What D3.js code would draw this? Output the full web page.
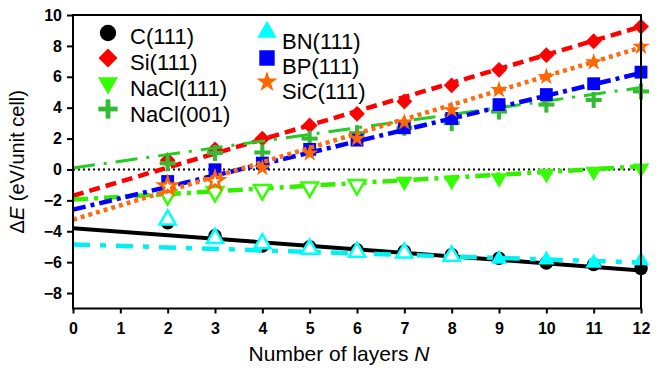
<!DOCTYPE html>
<html><head><meta charset="utf-8">
<script src="https://cdn.jsdelivr.net/npm/d3@7"></script>
<style>body{margin:0;background:#fff}svg{display:block}</style></head>
<body><svg id="c" width="662" height="370"></svg>
<script>
// ---- data ----
const layers   = [2,3,4,5,6,7,8,9,10,11,12];
const C111     = [-3.45,-4.3,-4.95,-5.0,-5.2,-5.3,-5.5,-5.75,-6.05,-6.15,-6.4];
const Si111    = [0.6,1.3,2.0,2.85,3.6,4.4,5.45,6.45,7.4,8.3,9.25];
const NaCl111  = [-1.65,-1.45,-1.32,-1.15,-1.0,-0.78,-0.72,-0.56,-0.28,-0.13,0.08];
const NaCl001  = [0.4,1.07,1.1,2.0,2.35,2.7,3.0,3.75,4.2,4.5,5.05];
const BN111    = [-3.25,-4.45,-4.8,-5.15,-5.35,-5.4,-5.6,-5.8,-5.85,-6.05,-5.9];
const BP111    = [-0.78,-0.02,0.41,1.3,1.9,2.7,3.3,4.2,4.85,5.55,6.3];
const SiC111   = [-1.1,-0.75,0.1,1.05,2.0,3.05,3.85,5.15,6.0,6.95,7.95];
// open (hollow) markers
const NaCl111open = [1,1,1,1,1,0,0,0,0,0,0];
const BN111open   = [1,1,1,1,1,1,1,0,0,0,0];
const SiC111open  = [1,1,0,0,0,0,0,0,0,0,0];
// fitted lines: value at N=0 and N=12
const fitN       = [0,12];
const C111fit    = [-3.8,-6.54];
const Si111fit   = [-1.7,9.25];
const NaCl111fit = [-1.95,0.2];
const NaCl001fit = [0.1,5.3];
const BN111fit   = [-4.85,-6.02];
const BP111fit   = [-2.6,6.25];
const SiC111fit  = [-3.25,7.9];
const xTicks = [0,1,2,3,4,5,6,7,8,9,10,11,12];
const yTicks = [-8,-6,-4,-2,0,2,4,6,8,10];
const labels = ["C(111)","Si(111)","NaCl(111)","NaCl(001)","BN(111)","BP(111)","SiC(111)"];

// ---- chart ----
const svg = d3.select("#c");
const x = d3.scaleLinear().domain([0,12]).range([73,641]);
const y = d3.scaleLinear().domain([-9,10]).range([308.5,15]);
const FONT = "Liberation Sans, Arial, Helvetica, sans-serif";

const series = [
  {name:labels[0], vals:C111, fit:C111fit, open:null, shape:"circle", fill:"#000", lc:"#000", dash:null, lw:4},
  {name:labels[1], vals:Si111, fit:Si111fit, open:null, shape:"diamond", fill:"#ff0000", lc:"#ff0000", dash:"11,6", lw:4.5},
  {name:labels[2], vals:NaCl111, fit:NaCl111fit, open:NaCl111open, shape:"tridown", fill:"#33ff00", lc:"#33ee00", dash:"15,6,4,6", lw:4.5},
  {name:labels[3], vals:NaCl001, fit:NaCl001fit, open:null, shape:"plus", fill:"#33bb33", lc:"#22cc22", dash:"22,9,3,9", lw:3},
  {name:labels[4], vals:BN111, fit:BN111fit, open:BN111open, shape:"triup", fill:"#00ffff", lc:"#00f0f0", dash:"17,10,6,10", lw:4.5},
  {name:labels[5], vals:BP111, fit:BP111fit, open:null, shape:"square", fill:"#0000ff", lc:"#0000ff", dash:"13,5,4,5", lw:4.5},
  {name:labels[6], vals:SiC111, fit:SiC111fit, open:SiC111open, shape:"star", fill:"#ff6600", lc:"#ff6a10", dash:"4,4", lw:4.5}
];

function drawMarker(g, shape, color, open, scale) {
  const s = scale || 1;
  if (shape === "plus") {
    const a = 8*s;
    g.append("line").attr("x1",-a).attr("x2",a).attr("y1",0).attr("y2",0).attr("stroke",color).attr("stroke-width",4*s);
    g.append("line").attr("x1",0).attr("x2",0).attr("y1",-a).attr("y2",a).attr("stroke",color).attr("stroke-width",4*s);
    return;
  }
  let sym, size, rot = 0;
  if (shape === "circle") { sym = d3.symbolCircle; size = 145; }
  else if (shape === "diamond") { sym = d3.symbolSquare; size = 125; rot = 45; }
  else if (shape === "tridown") { sym = d3.symbolTriangle; size = 120; rot = 180; }
  else if (shape === "triup") { sym = d3.symbolTriangle; size = 115; }
  else if (shape === "square") { sym = d3.symbolSquare; size = 165; }
  else if (shape === "star") { sym = d3.symbolStar; size = 95; }
  const p = g.append("path")
    .attr("d", d3.symbol().type(sym).size(size*s*s)())
    .attr("transform", rot ? `rotate(${rot})` : null);
  if (open) p.attr("fill","#fff").attr("stroke",color).attr("stroke-width",2.5);
  else p.attr("fill",color);
}

// zero reference line
svg.append("line").attr("x1",x(0)).attr("x2",x(12)).attr("y1",y(0)).attr("y2",y(0))
  .attr("stroke","#000").attr("stroke-width",2).attr("stroke-dasharray","2,3");

const line = d3.line().x(d=>x(d[0])).y(d=>y(d[1]));
series.forEach(s => {
  svg.append("path").datum(fitN.map((n,i)=>[n,s.fit[i]]))
    .attr("d", line).attr("fill","none").attr("stroke", s.lc)
    .attr("stroke-width", s.lw).attr("stroke-dasharray", s.dash);
  layers.forEach((n,i) => {
    const g = svg.append("g").attr("transform",`translate(${x(n)},${y(s.vals[i])})`);
    drawMarker(g, s.shape, s.fill, s.open ? s.open[i] : 0);
  });
});

// frame
svg.append("rect").attr("x",x(0)).attr("y",y(10)).attr("width",x(12)-x(0)).attr("height",y(-9)-y(10))
  .attr("fill","none").attr("stroke","#000").attr("stroke-width",2);

// axes
const xa = svg.append("g").attr("transform",`translate(0,${y(-9)})`)
  .call(d3.axisBottom(x).tickValues(xTicks).tickSize(5).tickPadding(9).tickFormat(d3.format("d")));
const ya = svg.append("g").attr("transform",`translate(${x(0)},0)`)
  .call(d3.axisLeft(y).tickValues(yTicks).tickSize(6).tickPadding(5).tickFormat(d3.format("d")));
[xa,ya].forEach(a => {
  a.select(".domain").remove();
  a.selectAll("line").attr("stroke","#000").attr("stroke-width",2);
  a.selectAll("text").attr("font-family",FONT).attr("font-weight","bold").attr("font-size",16).attr("fill","#000");
});

// axis titles
const xt = svg.append("text").attr("x",339).attr("y",361).attr("text-anchor","middle")
  .attr("font-family",FONT).attr("font-size",21).attr("fill","#000");
xt.append("tspan").text("Number of layers ");
xt.append("tspan").attr("font-style","italic").text("N");

const yt = svg.append("text").attr("transform",`translate(24,${y(0.5)}) rotate(-90)`).attr("text-anchor","middle")
  .attr("font-family",FONT).attr("font-size",20).attr("fill","#000");
yt.append("tspan").text("\u0394");
yt.append("tspan").attr("font-style","italic").text("E");
yt.append("tspan").text(" (eV/unit cell)");

// legend
const legPos = [
  [108,33,130,36],[108,58,130,62],[108,83,130,88],[108,109,130,114],
  [267,32,282,41],[267,58,282,66],[267,82,282,91]
];
series.forEach((s,i) => {
  const p = legPos[i];
  const g = svg.append("g").attr("transform",`translate(${p[0]},${p[1]})`);
  drawMarker(g, s.shape, s.fill, 0, 1.2);
  svg.append("text").attr("x",p[2]).attr("y",p[3]).attr("dy","0.35em")
    .attr("font-family",FONT).attr("font-size",22).attr("fill","#000").text(s.name);
});
</script>
</body></html>
